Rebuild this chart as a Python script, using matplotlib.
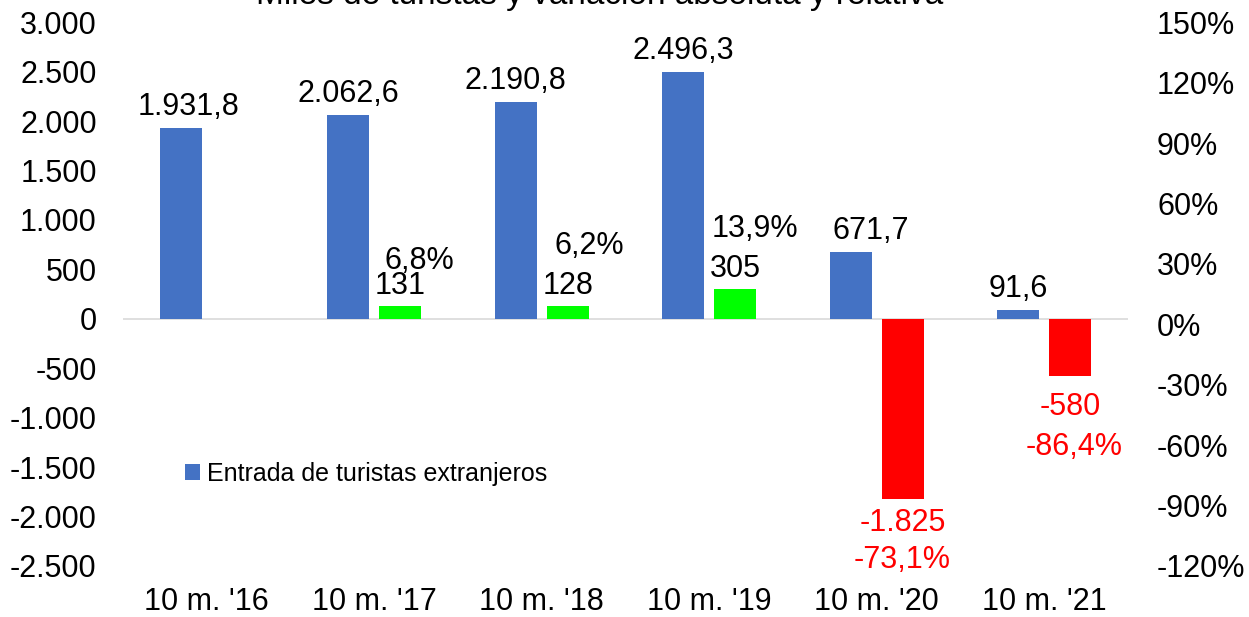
import numpy as np
import matplotlib.pyplot as plt
from matplotlib.ticker import FuncFormatter

plt.rcParams['font.family'] = ['Liberation Sans', 'DejaVu Sans']

# ------------> data
categorias = ["10 m. '16", "10 m. '17", "10 m. '18", "10 m. '19", "10 m. '20", "10 m. '21"]
turistas = [1931.8, 2062.6, 2190.8, 2496.3, 671.7, 91.6]
var_abs = [np.nan, 131, 128, 305, -1825, -580]
var_pct = [np.nan, 6.8, 6.2, 13.9, -73.1, -86.4]

lbl_turistas = ["1.931,8", "2.062,6", "2.190,8", "2.496,3", "671,7", "91,6"]
lbl_abs = ["", "131", "128", "305", "-1.825", "-580"]
lbl_pct = ["", "6,8%", "6,2%", "13,9%", "-73,1%", "-86,4%"]

azul = "#4472C4"
verde = "#00FF00"
rojo = "#FF0000"

# ------------> figure
fig = plt.figure(figsize=(12.49, 6.17), dpi=100)
ax = fig.add_axes([0.0985, 0.0827, 0.8045, 0.8813])
ax2 = ax.twinx()

x = np.arange(len(categorias))
w = 0.25
off = 0.155

ax.bar(x - off, turistas, width=w, color=azul, label="Entrada de turistas extranjeros", zorder=3)
col_var = [verde if v >= 0 else rojo for v in np.nan_to_num(var_abs)]
ax.bar(x + off, var_abs, width=w, color=col_var, zorder=3)

ax.axhline(0, color="#D9D9D9", linewidth=1.2, zorder=2)

ax.set_xlim(-0.5, len(categorias) - 0.5)
ax.set_ylim(-2500, 3000)
ax.set_yticks(np.arange(-2500, 3001, 500))
ax.yaxis.set_major_formatter(FuncFormatter(lambda v, p: f"{v:,.0f}".replace(",", ".")))
ax2.set_ylim(-120, 150)
ax2.set_yticks(np.arange(-120, 151, 30))
ax2.yaxis.set_major_formatter(FuncFormatter(lambda v, p: f"{v:.0f}%"))

ax.set_xticks(x)
ax.set_xticklabels(categorias)
for a in (ax, ax2):
    for s in a.spines.values():
        s.set_visible(False)
    a.tick_params(length=0, labelsize=22)
ax.tick_params(axis='y', pad=19)
ax.tick_params(axis='x', pad=15)
ax2.tick_params(axis='y', pad=21)

# ------------> data labels
dx_tur = [8, 0, 0, 0, 20, 0]
for i in range(len(categorias)):
    ax.annotate(lbl_turistas[i], (x[i] - off, turistas[i]), xytext=(dx_tur[i], 13),
                textcoords='offset pixels', ha='center', va='baseline', fontsize=22)

# offsets (pixels) for variation labels
dy_abs = [0, 12, 12, 12, -9, -16]
dx_pct = [0, 19, 22, 20, 0, 4]
dy_pct = [0, 37, 52, 52, -69, -79]
for i in range(1, len(categorias)):
    v = var_abs[i]
    c = 'black' if v >= 0 else rojo
    ax.annotate(lbl_abs[i], (x[i] + off, v), xytext=(0, dy_abs[i]), textcoords='offset pixels',
                ha='center', va='baseline' if v >= 0 else 'top', fontsize=22, color=c)
    ax.annotate(lbl_pct[i], (x[i] + off, v), xytext=(dx_pct[i], dy_pct[i]), textcoords='offset pixels',
                ha='center', va='baseline', fontsize=22, color=c)

fig.legend(handles=[ax.containers[0]], loc='center left', bbox_to_anchor=(0.13, 0.232),
           frameon=False, fontsize=18, handlelength=0.6, handleheight=0.6, handletextpad=0.3)

fig.text(0.48, 0.994, "Miles de turistas y variación absoluta y relativa", ha='center',
         va='baseline', fontsize=24)

fig.savefig("out.png", dpi=100)
plt.close()
